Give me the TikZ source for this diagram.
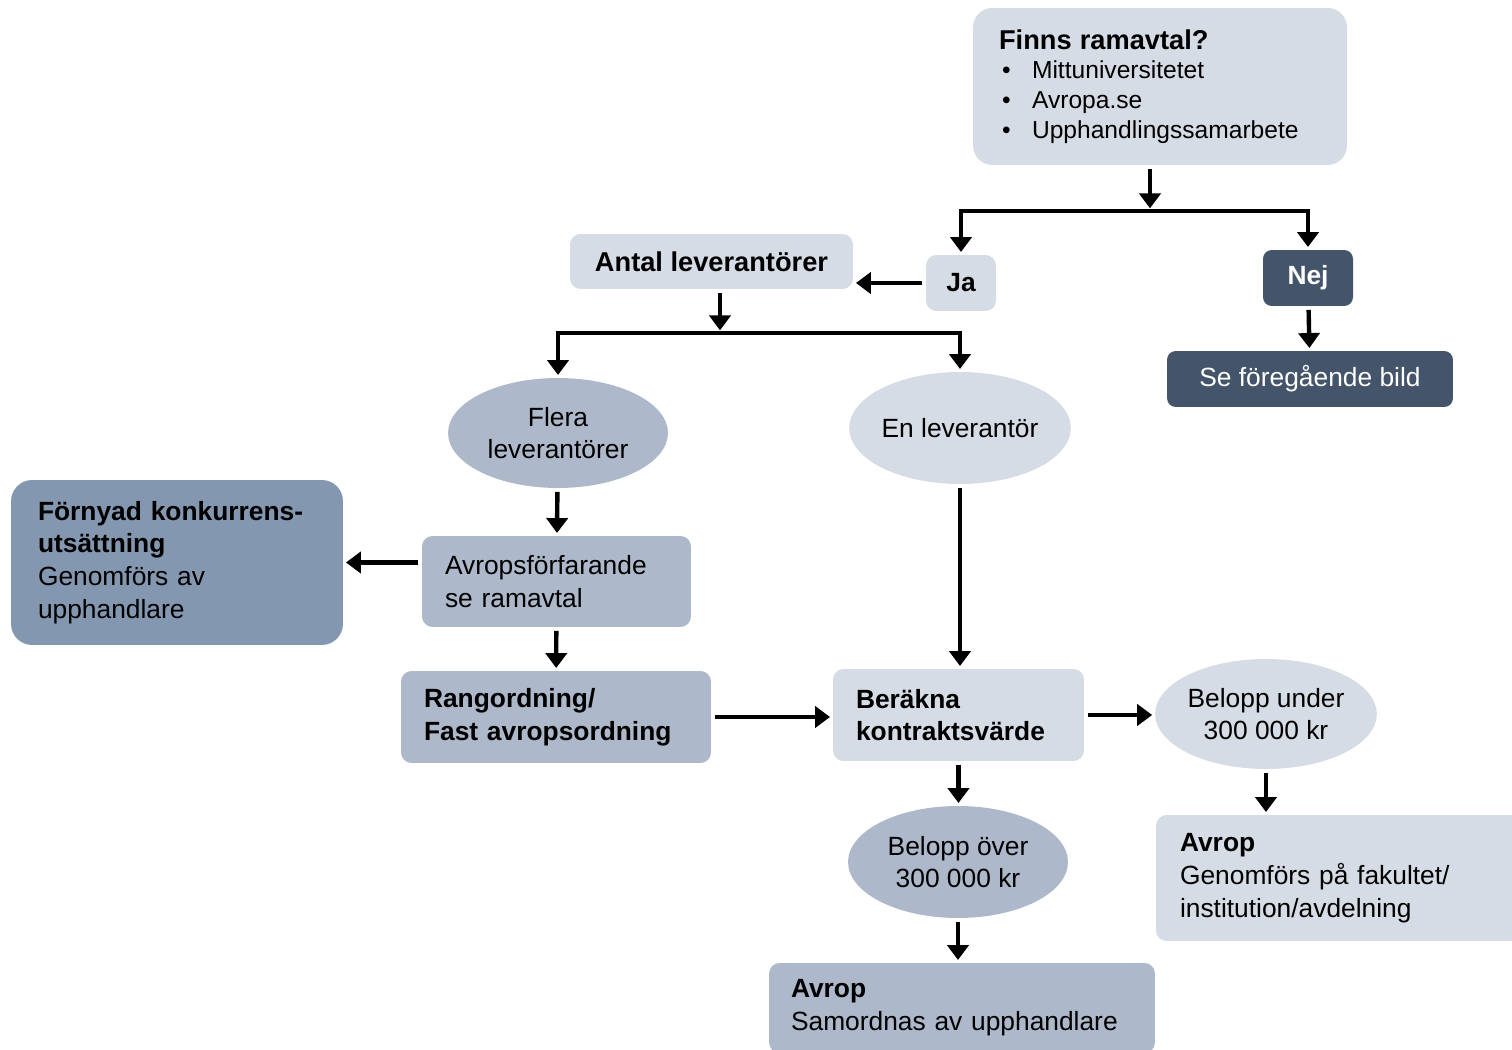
\documentclass[tikz,border=0pt]{standalone}
\usepackage{fontspec}
\setmainfont{Liberation Sans}
\usepackage{tikz}
\usetikzlibrary{arrows.meta, positioning, shapes.geometric}
\definecolor{paleblue}{HTML}{D6DCE5}
\definecolor{midblue}{HTML}{ADB9CA}
\definecolor{steelblue}{HTML}{8497B0}
\definecolor{slate}{HTML}{44546A}
\newcommand{\listdot}{\makebox[0.66cm][l]{\hspace{0.06cm}\textbullet}}

\begin{document}
\begin{tikzpicture}[
    x=0.02cm, y=-0.02cm,
    every node/.style={font=\fontsize{15}{18.6}\selectfont},
    light/.style={rectangle, rounded corners=6pt, fill=paleblue, text centered},
    medium/.style={rectangle, rounded corners=6pt, fill=midblue, align=left},
    dark/.style={rectangle, rounded corners=5pt, fill=slate, text=white, text centered},
    leftbox/.style={rectangle, rounded corners=6pt, inner xsep=0.46cm, align=left},
    blob/.style={ellipse, minimum width=4.4cm, minimum height=2.2cm, inner sep=0pt, align=center},
    arr/.style={-{Triangle[length=8.5pt, width=12pt]}, line width=2.5pt, shorten <=2pt, shorten >=1.5pt}
]
    \useasboundingbox (0,0) rectangle (1512,1050);
    \clip (0,0) rectangle (1512,1050);

    % Question
    \node[leftbox, fill=paleblue, rounded corners=11pt, inner xsep=0.52cm, text width=6.44cm, minimum height=3.14cm,
          font=\fontsize{14}{17}\selectfont] (finns) at (1160, 86.5)
        {{\fontsize{15.5}{17}\selectfont\textbf{Finns ramavtal?}}\\
         \listdot Mittuniversitetet\\
         \listdot Avropa.se\\
         \listdot Upphandlingssamarbete};
    \coordinate (jn1) at (1150, 211);

    % Answers
    \node[light, minimum width=1.4cm, minimum height=1.12cm, font=\fontsize{15}{18.6}\selectfont\bfseries] (ja) at (961, 283) {Ja};
    \node[dark, minimum width=1.8cm, minimum height=1.12cm, font=\fontsize{15}{18.6}\selectfont\bfseries] (nej) at (1308, 278) {Nej};
    \node[dark, minimum width=5.72cm, minimum height=1.12cm] (se) at (1310, 379) {Se föregående bild};
    \node[light, minimum width=5.66cm, minimum height=1.1cm, font=\fontsize{15.5}{18.6}\selectfont\bfseries] (antal) at (711.5, 261.5) {Antal leverantörer};
    \coordinate (jn2) at (720, 333);

    % Suppliers
    \node[blob, fill=midblue] (flera) at (558, 433) {Flera\\leverantörer};
    \node[blob, fill=paleblue, minimum height=2.24cm] (en) at (960, 428) {En leverantör};

    \node[leftbox, fill=steelblue, rounded corners=12pt, inner xsep=0.54cm, text width=5.56cm, minimum height=3.3cm] (fornyad) at (177, 562.5)
        {\textbf{Förnyad konkurrens-}\\\textbf{utsättning}\\Genomförs av\\upphandlare};
    \node[leftbox, fill=midblue, text width=4.46cm, minimum height=1.82cm] (avrops) at (556.5, 581.5) {Avropsförfarande\\se ramavtal};
    \node[leftbox, fill=midblue, text width=5.28cm, minimum height=1.84cm] (rang) at (556, 717) {\textbf{Rangordning/}\\\textbf{Fast avropsordning}};

    % Contract value
    \node[leftbox, fill=paleblue, text width=4.1cm, minimum height=1.84cm] (berakna) at (958.5, 715) {\textbf{Beräkna}\\\textbf{kontraktsvärde}};
    \node[blob, fill=paleblue] (under) at (1266, 714) {Belopp under\\300 000 kr};
    \node[blob, fill=midblue, minimum height=2.24cm] (over) at (958, 862) {Belopp över\\300 000 kr};

    \node[leftbox, fill=paleblue, inner xsep=0.48cm, text width=6.52cm, minimum height=2.52cm] (avropr) at (1343, 878)
        {\textbf{Avrop}\\Genomförs på fakultet/\\institution/avdelning};
    \node[leftbox, fill=midblue, inner xsep=0.44cm, text width=6.84cm, minimum height=1.8cm] (avropb) at (962, 1008)
        {\textbf{Avrop}\\Samordnas av upphandlare};

    \draw[arr] (jn1 |- finns.south) -- (jn1);
    \draw[arr, shorten <=0pt] (jn1) -| (ja.north);
    \draw[arr, shorten <=0pt] (jn1) -| (nej.north);
    \draw[arr] (nej) -- (se);
    \draw[arr] (ja.west) -- (ja.west -| antal.east);
    \draw[arr] (jn2 |- antal.south) -- (jn2);
    \draw[arr, shorten <=0pt] (jn2) -| (flera.north);
    \draw[arr, shorten <=0pt] (jn2) -| (en.north);
    \draw[arr] (flera) -- (avrops);
    \draw[arr] (fornyad.east -| avrops.west) -- (fornyad.east);
    \draw[arr] (avrops) -- (rang);
    \draw[arr] (en.south) -- (en.south |- berakna.north);
    \draw[arr] (rang.east) -- (rang.east -| berakna.west);
    \draw[arr] (berakna.east) -- (berakna.east -| under.west);
    \draw[arr] (berakna.south) -- (berakna.south |- over.north);
    \draw[arr] (under.south) -- (under.south |- avropr.north);
    \draw[arr] (over.south) -- (over.south |- avropb.north);
\end{tikzpicture}
\end{document}
